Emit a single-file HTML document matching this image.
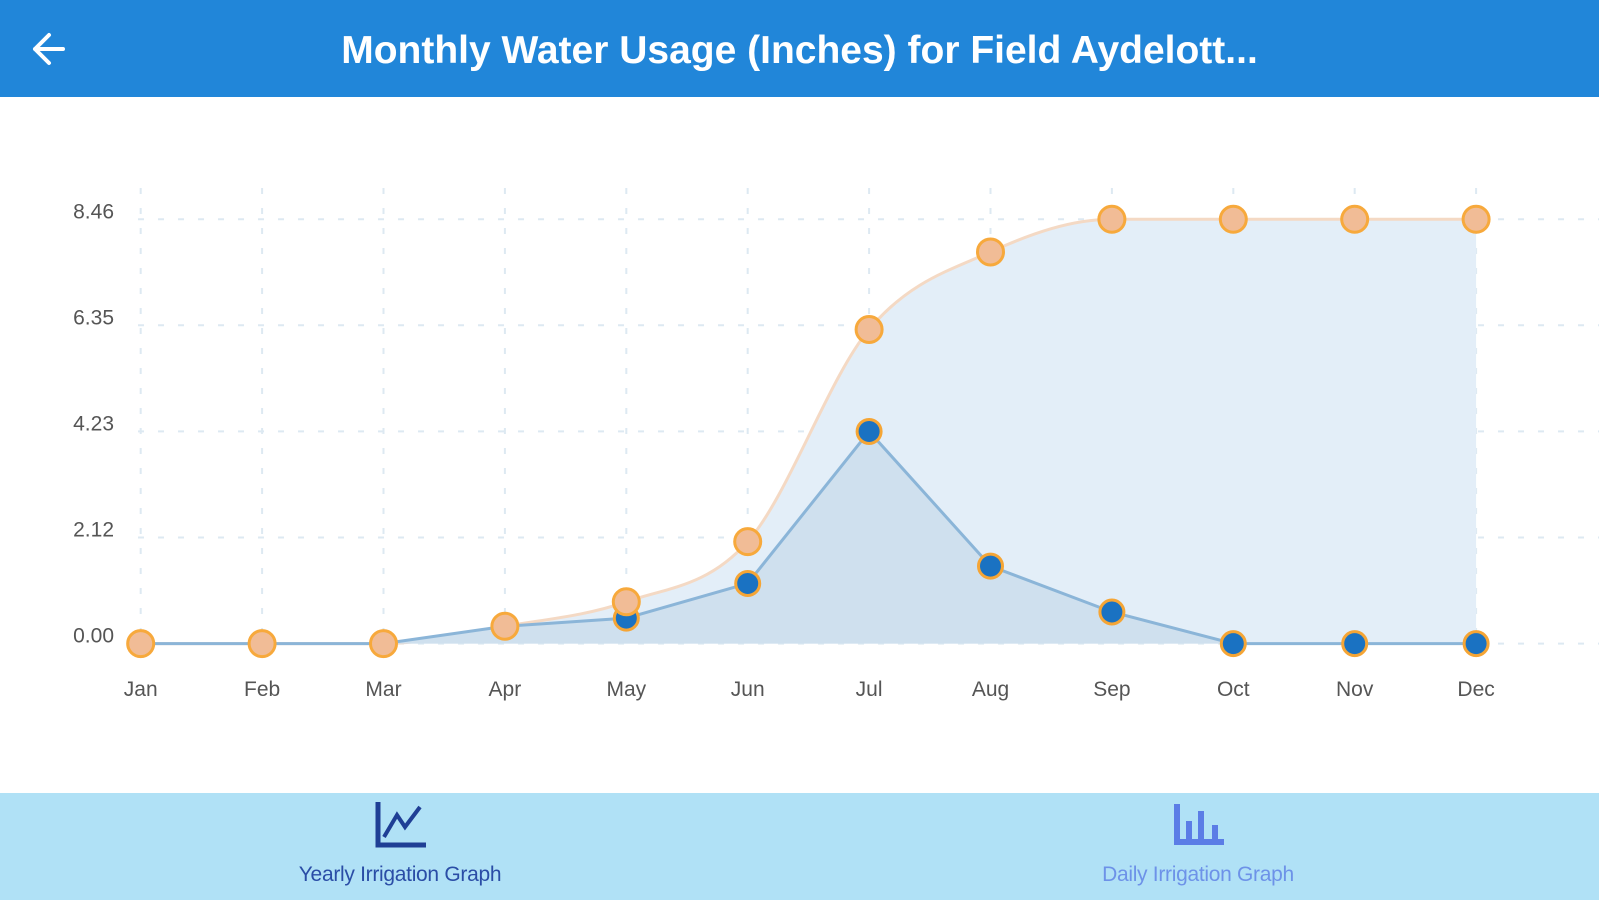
<!DOCTYPE html>
<html><head><meta charset="utf-8"><style>
body{margin:0;width:1599px;height:900px;overflow:hidden;background:#fff;font-family:"Liberation Sans",sans-serif}
.hdr{position:absolute;left:0;top:0;width:1599px;height:97px;background:#2186d9}
.title{position:absolute;left:0;width:1599px;top:29px;text-align:center;color:#fff;font-weight:bold;font-size:39px;letter-spacing:0px}
.bar{position:absolute;left:0;top:793px;width:1599px;height:107px;background:#b0e1f6}
.lbl{position:absolute;font-size:21px;top:863px;width:300px;text-align:center;letter-spacing:-0.3px}
</style></head><body>
<div class="hdr"><svg width="60" height="97" style="position:absolute;left:25px;top:0"><path d="M38 49 H10 M24 35 L10 49 L24 63" stroke="#fff" stroke-width="4" fill="none" stroke-linecap="round" stroke-linejoin="round"/></svg><div class="title">Monthly Water Usage (Inches) for Field Aydelott...</div></div>
<svg id="c" width="1599" height="793" style="position:absolute;left:0;top:0"></svg>
<div class="bar">
<svg width="60" height="60" style="position:absolute;left:372px;top:4px"><path d="M6 5 V48 H54" stroke="#1f3f95" stroke-width="5" fill="none"/><path d="M12 40 L25 18 L33 30 L48 10" stroke="#1f3f95" stroke-width="4" fill="none"/></svg>
<svg width="60" height="60" style="position:absolute;left:1172px;top:4px"><rect x="2" y="7" width="6" height="40" fill="#5b7de6"/><rect x="2" y="42" width="50" height="6" fill="#5b7de6"/><rect x="14" y="24" width="6" height="20" fill="#5b7de6"/><rect x="26" y="14" width="6" height="30" fill="#5b7de6"/><rect x="40" y="28" width="6" height="16" fill="#5b7de6"/></svg>
</div>
<div class="lbl" style="left:250px;color:#2a4da6">Yearly Irrigation Graph</div>
<div class="lbl" style="left:1048px;color:#6d92e8">Daily Irrigation Graph</div>
<script>
var s=document.getElementById('c'),h='';
var X=i=>140.7+i*121.4,Y=y=>y*1.02;
var m=['Jan','Feb','Mar','Apr','May','Jun','Jul','Aug','Sep','Oct','Nov','Dec'];
var o=[631,631,631,614,590,531,323,247,215,215,215,215].map(Y);
var b=[631,631,631,614,606,572,423,555,600,631,631,631].map(Y);
var gy=[219.3,325.3,431.4,537.5,643.6],gl=['8.46','6.35','4.23','2.12','0.00'];
for(var i=0;i<5;i++){h+='<line x1="138" x2="1599" y1="'+gy[i]+'" y2="'+gy[i]+'" stroke="#dde9f2" stroke-width="2" stroke-dasharray="6,14"/>';h+='<text x="114" y="'+(gy[i]-1)+'" text-anchor="end" font-size="21" fill="#555">'+gl[i]+'</text>';}
for(i=0;i<12;i++){h+='<line x1="'+X(i)+'" x2="'+X(i)+'" y1="188" y2="643" stroke="#dde9f2" stroke-width="2" stroke-dasharray="6,14"/>';h+='<text x="'+X(i)+'" y="696" text-anchor="middle" font-size="21" fill="#555">'+m[i]+'</text>';}
function smooth(p){var d='M'+X(0)+' '+p[0];for(var i=0;i<11;i++){var x0=X(i),x1=X(i+1),dx=(x1-x0)/3;var t0=i>0?(p[i+1]-p[i-1])/2:0,t1=i<10?(p[i+2]-p[i])/2:0;if((p[i+1]-p[i])*(p[i]-(i>0?p[i-1]:p[i]))<=0)t0=0;if((p[i+1]-p[i])*((i<10?p[i+2]:p[i+1])-p[i+1])<=0)t1=0;d+=' C'+(x0+dx)+' '+(p[i]+t0/3)+' '+(x1-dx)+' '+(p[i+1]-t1/3)+' '+x1+' '+p[i+1];}return d;}
var od=smooth(o),bd='M'+b.map((v,i)=>X(i)+' '+v).join(' L');
h+='<path d="'+od+' L'+X(11)+' 643.6 L'+X(0)+' 643.6Z" fill="#e3eef8"/>';
h+='<path d="'+od+'" stroke="#f4d9c4" stroke-width="3" fill="none"/>';
h+='<path d="'+bd+' L'+X(11)+' 643.6 L'+X(0)+' 643.6Z" fill="#cfe0ee"/>';
h+='<path d="'+bd+'" stroke="#8bb5d8" stroke-width="3" fill="none"/>';
for(i=3;i<12;i++)h+='<circle cx="'+X(i)+'" cy="'+b[i]+'" r="12" fill="#1a72c2" stroke="#f5a535" stroke-width="3"/>';
for(i=0;i<12;i++)h+='<circle cx="'+X(i)+'" cy="'+o[i]+'" r="13" fill="#f1bc96" stroke="#f7a93c" stroke-width="3"/>';
s.innerHTML=h;
</script>
</body></html>
